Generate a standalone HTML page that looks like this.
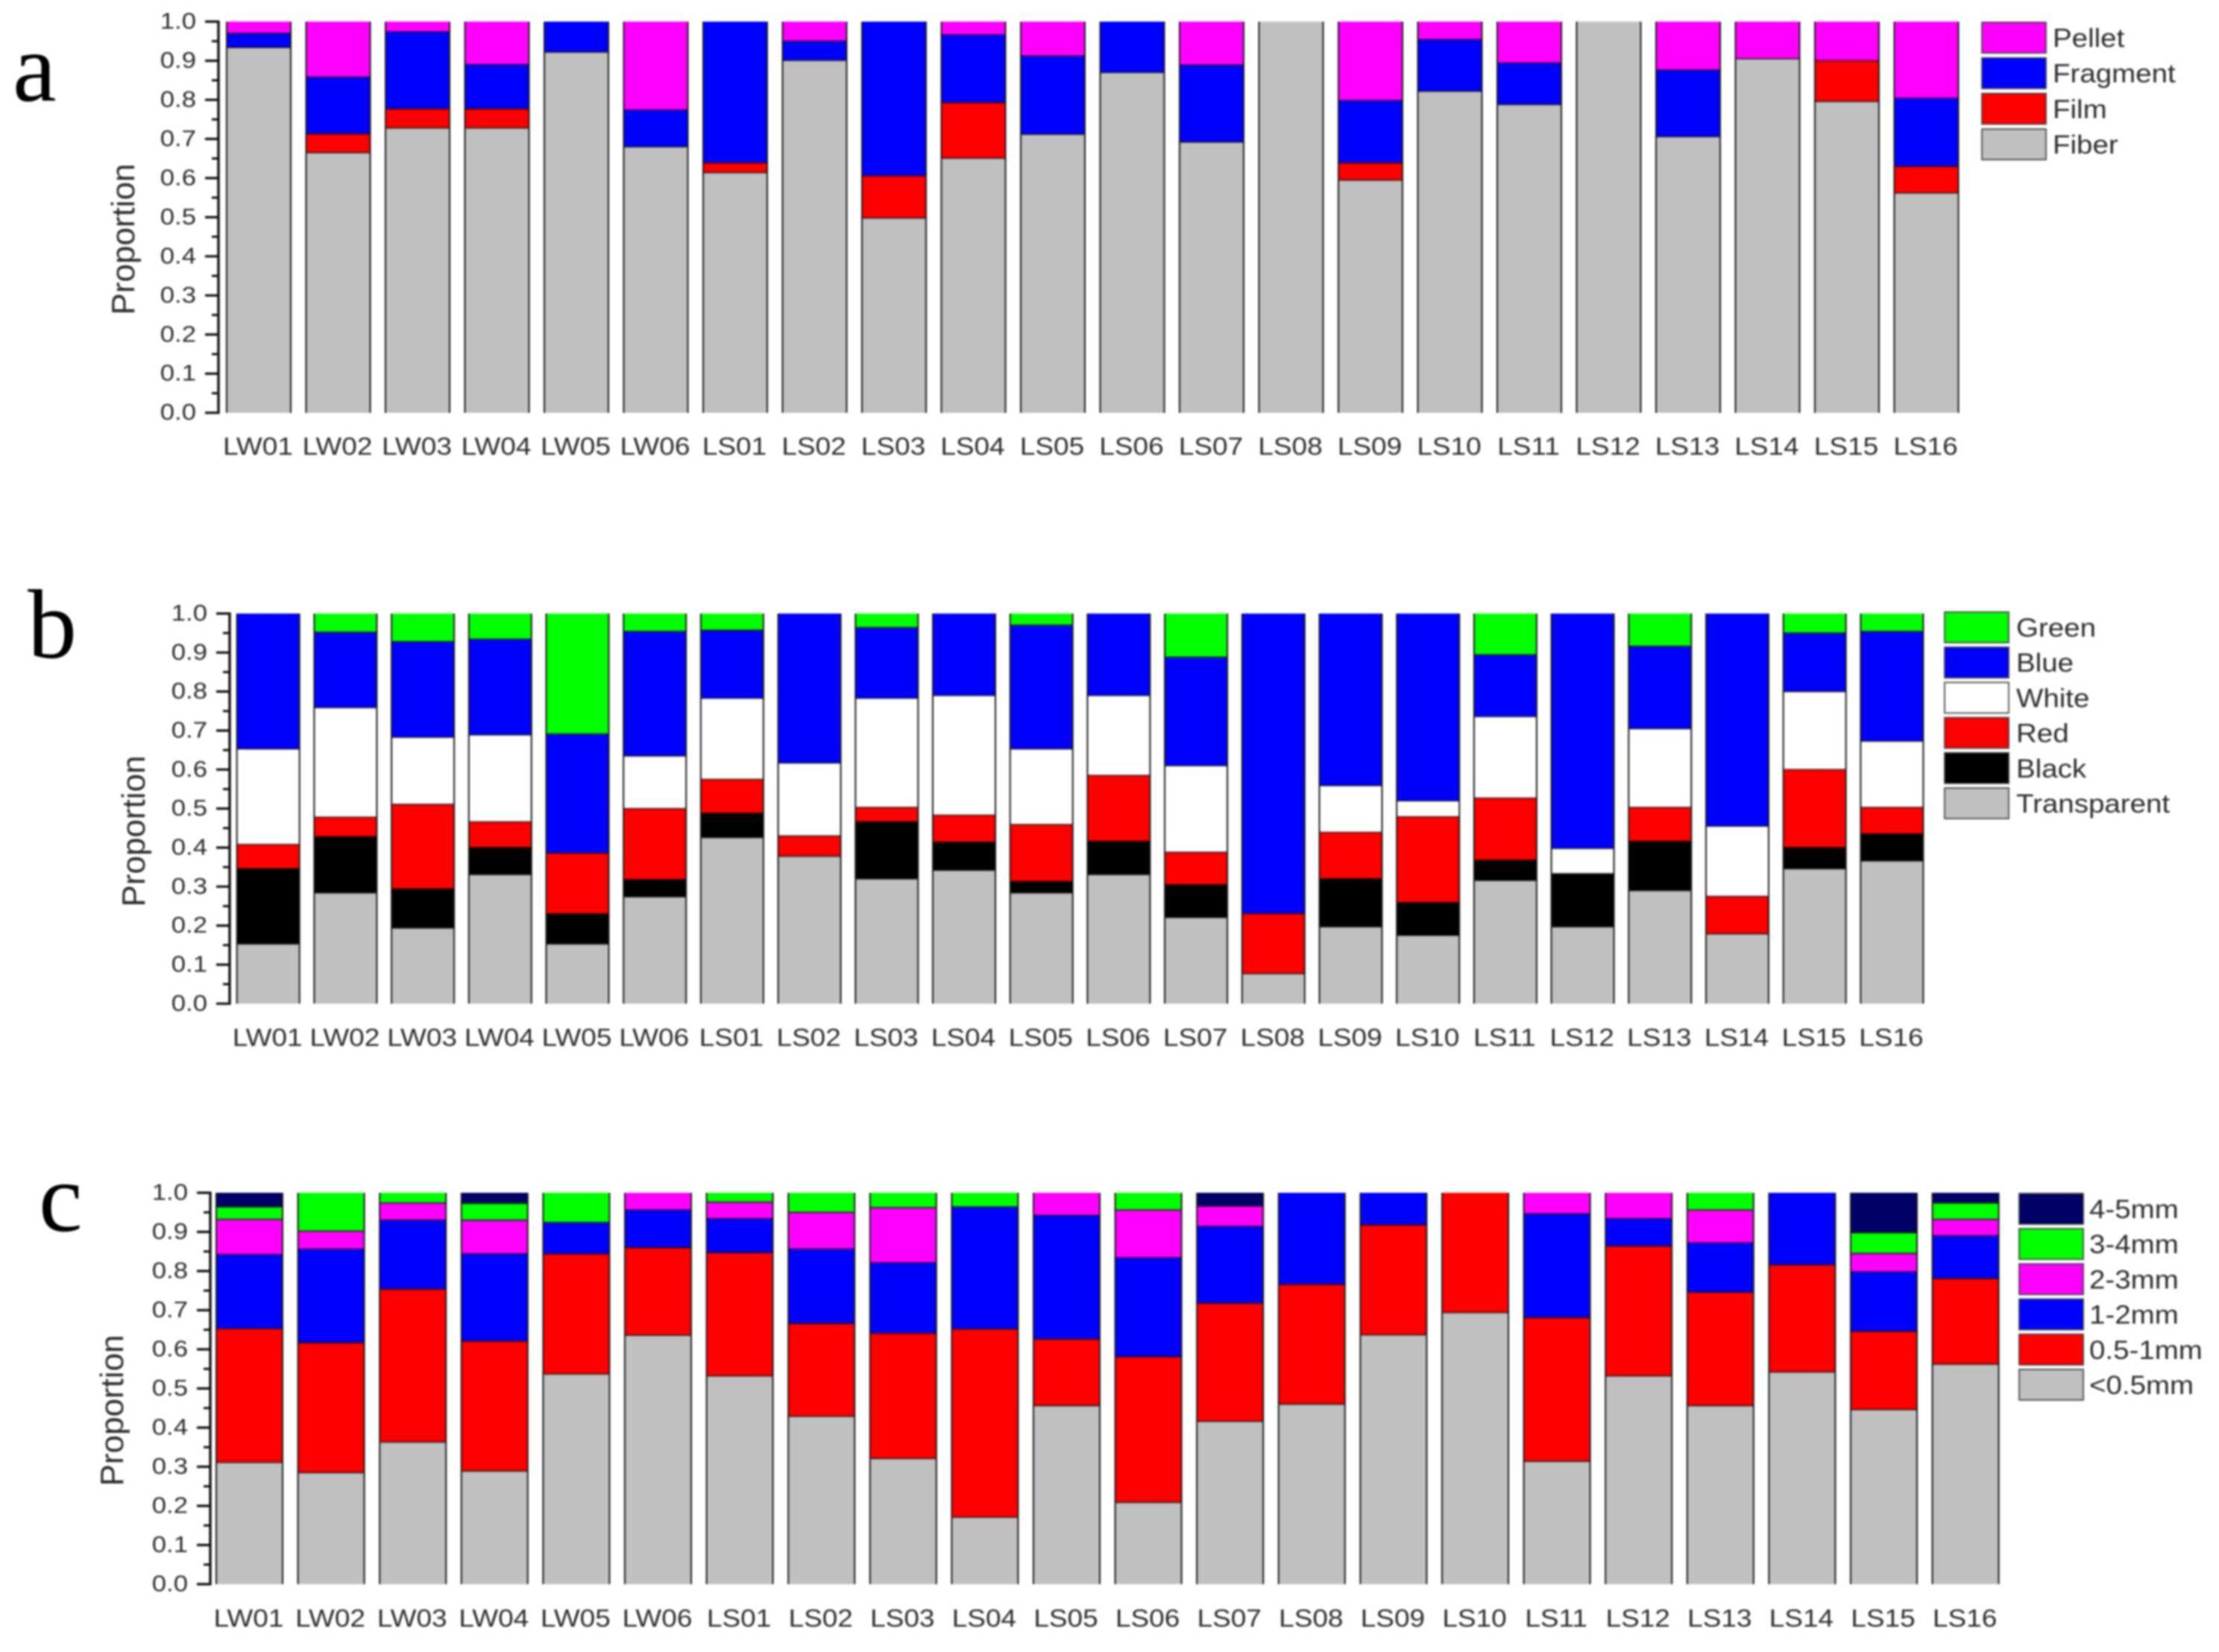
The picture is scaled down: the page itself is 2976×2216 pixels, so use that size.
<!DOCTYPE html>
<html>
<head>
<meta charset="utf-8">
<title>Proportion of microplastic shape, colour and size</title>
<style>
html,body{margin:0;padding:0;background:#fff;width:2976px;height:2216px;overflow:hidden}
svg{display:block;filter:blur(1.2px)}
text{font-family:"Liberation Sans",Arial,sans-serif;fill:#2c2c2c}
.letter{font-family:"Liberation Serif","Times New Roman",serif;fill:#000;font-size:132px}
</style>
</head>
<body>
<svg id="figure" xmlns="http://www.w3.org/2000/svg" width="2976" height="2216" viewBox="0 0 2976 2216">
  <rect x="0" y="0" width="2976" height="2216" fill="#fff"/>
  <text class="letter" x="17" y="135">a</text>
  <text class="letter" x="37" y="882">b</text>
  <text class="letter" x="52" y="1651">c</text>
</svg>
<script>
const categories = ["LW01","LW02","LW03","LW04","LW05","LW06","LS01","LS02","LS03","LS04","LS05","LS06","LS07","LS08","LS09","LS10","LS11","LS12","LS13","LS14","LS15","LS16"];
const tickLabels = ["0.0","0.1","0.2","0.3","0.4","0.5","0.6","0.7","0.8","0.9","1.0"];
const tickValues = [0,0.1,0.2,0.3,0.4,0.5,0.6,0.7,0.8,0.9,1];

/* Panel a: shape, stacked bottom to top */
const shapeNames = ["Fiber","Film","Fragment","Pellet"];
const shapeFiber = [.934,.665,.728,.728,.922,.68,.614,.901,.498,.651,.712,.87,.692,1,.595,.822,.788,1,.706,.905,.796,.562];
const shapeFilm = [0,.048,.049,.049,0,0,.025,0,.108,.142,0,0,0,0,.044,0,0,0,0,0,.104,.068];
const shapeFragment = [.036,.145,.197,.113,.078,.094,.361,.049,.394,.173,.2,.13,.197,0,.159,.132,.106,0,.17,0,0,.174];
const shapePellet = [.03,.142,.026,.11,0,.226,0,.05,0,.034,.088,0,.111,0,.202,.046,.106,0,.124,.095,.1,.196];

/* Panel b: colour, stacked bottom to top */
const colourNames = ["Transparent","Black","Red","White","Blue","Green"];
const colourTransparent = [.153,.284,.194,.331,.153,.274,.426,.378,.32,.342,.284,.331,.221,.077,.197,.175,.316,.197,.29,.179,.346,.366];
const colourBlack = [.193,.144,.1,.069,.077,.044,.062,0,.146,.072,.029,.085,.084,0,.123,.084,.052,.136,.126,0,.054,.069];
const colourRed = [.062,.05,.217,.066,.156,.182,.087,.052,.037,.069,.146,.169,.083,.154,.119,.22,.159,0,.087,.096,.2,.068];
const colourWhite = [.245,.281,.172,.223,0,.135,.208,.187,.28,.307,.194,.205,.222,0,.12,.041,.209,.065,.202,.18,.2,.17];
const colourBlue = [.347,.193,.245,.245,.305,.319,.174,.383,.181,.21,.317,.21,.278,.769,.441,.48,.158,.602,.211,.545,.15,.281];
const colourGreen = [0,.048,.072,.066,.309,.046,.043,0,.036,0,.03,0,.112,0,0,0,.106,0,.084,0,.05,.046];

/* Panel c: size, stacked bottom to top */
const sizeNames = ["<0.5mm","0.5-1mm","1-2mm","2-3mm","3-4mm","4-5mm"];
const sizeUnder05 = [.311,.285,.363,.289,.537,.636,.532,.429,.321,.171,.456,.209,.416,.46,.637,.694,.314,.532,.456,.542,.446,.562];
const size05to1 = [.342,.332,.391,.332,.307,.224,.315,.237,.32,.481,.17,.372,.302,.306,.281,.306,.367,.332,.29,.274,.2,.219];
const size1to2 = [.189,.239,.176,.223,.08,.096,.087,.19,.18,.312,.316,.253,.196,.234,.082,0,.265,.07,.126,.184,.152,.109];
const size2to3 = [.09,.046,.044,.086,0,.044,.042,.094,.141,0,.058,.122,.052,0,0,0,.054,.066,.084,0,.047,.042];
const size3to4 = [.032,.098,.026,.043,.076,0,.024,.05,.038,.036,0,.044,0,0,0,0,0,0,.044,0,.053,.042];
const size4to5 = [.036,0,0,.027,0,0,0,0,0,0,0,0,.034,0,0,0,0,0,0,0,.102,.026];

const NS = "http://www.w3.org/2000/svg";
const root = document.getElementById("figure");

function make(tag, attrs, parent) {
  const el = document.createElementNS(NS, tag);
  for (const k in attrs) el.setAttribute(k, attrs[k]);
  parent.appendChild(el);
  return el;
}
function slug(s) {
  return s.toLowerCase().replace("<", "under-").replace(/\./g, "-");
}

function drawPanel(p) {
  const group = make("g", {}, root);
  
  

  const y = v => p.y0 + (p.y1 - p.y0) * v;
  const x = i => p.barLeft + p.barStep * i;

  /* bars */
  categories.forEach((cat, i) => {
    const barGroup = make("g", {}, group);
    
    
    let cum = 0;
    p.series.forEach((vals, s) => {
      const v = vals[i];
      if (v <= 0) return;
      const top = Math.min(1, cum + v);
      const seg = make("rect", {
        x: x(i), y: y(top), width: p.barWidth, height: y(cum) - y(top), fill: p.colors[s]
      }, barGroup);
      
      
      if (cum > 0) {
        const sep = make("line", {
          x1: x(i), x2: x(i) + p.barWidth, y1: y(cum), y2: y(cum),
          stroke: "#000", "stroke-opacity": 0.55, "stroke-width": 2.4
        }, barGroup);
        
        
      }
      cum = top;
    });
    const outline = make("path", {
      d: "M" + x(i) + " " + y(0) + "V" + y(1) + "M" + (x(i) + p.barWidth) + " " + y(1) + "V" + y(0),
      stroke: "#1a1a1a", "stroke-width": 2, fill: "none"
    }, barGroup);
    
    

    const label = make("text", {
      transform: "translate(" + (x(i) + p.barWidth / 2 - 1) + "," + p.labelBase + ") scale(1.12,1)",
      "text-anchor": "middle", "font-size": 33
    }, group);
    label.textContent = cat;
    
    
  });

  /* y axis */
  const axis = make("line", {
    x1: p.axisX, x2: p.axisX, y1: y(0) + 1.5, y2: y(1) - 1.5, stroke: "#111", "stroke-width": 3.4
  }, group);
  
  

  tickValues.forEach((v, k) => {
    const major = make("line", {
      x1: p.axisX - 18, x2: p.axisX, y1: y(v), y2: y(v), stroke: "#111", "stroke-width": 3.2
    }, group);
    
    
    if (k < tickValues.length - 1) {
      const minor = make("line", {
        x1: p.axisX - 9, x2: p.axisX, y1: y(v + 0.05), y2: y(v + 0.05), stroke: "#111", "stroke-width": 3
      }, group);
      
      
    }
    const t = make("text", {
      transform: "translate(" + (p.axisX - 30) + "," + (y(v) + 9.5) + ") scale(1.12,1)",
      "text-anchor": "end", "font-size": 31
    }, group);
    t.textContent = tickLabels[k];
    
    
  });

  const title = make("text", {
    transform: "translate(" + p.titleX + "," + p.titleY + ") rotate(-90)",
    "text-anchor": "middle", "font-size": 44
  }, group);
  title.textContent = "Proportion";
  
  

  /* legend, listed top to bottom in reverse stacking order */
  const count = p.names.length;
  p.names.forEach((name, s) => {
    const row = count - 1 - s;
    const entry = make("g", {}, group);
    
    
    const sw = make("rect", {
      x: p.legendX, y: p.legendY + row * p.legendStep, width: 86, height: 41,
      fill: p.colors[s], stroke: "#333", "stroke-opacity": 0.8, "stroke-width": 2
    }, entry);
    
    
    const t = make("text", {
      transform: "translate(" + p.legendTextX + "," + (p.legendBase + row * p.legendStep) + ") scale(1.1,1)",
      "font-size": 35
    }, entry);
    t.textContent = name;
    
    
  });
}

drawPanel({
  id: "a", y0: 553.7, y1: 29, barLeft: 304, barStep: 106.5, barWidth: 86, axisX: 293, labelBase: 610,
  titleX: 180, titleY: 321,
  names: shapeNames, series: [shapeFiber, shapeFilm, shapeFragment, shapePellet],
  colors: ["#c0c0c0", "#ff0000", "#0000ff", "#ff00ff"],
  legendX: 2658, legendY: 30, legendStep: 47.7, legendTextX: 2753, legendBase: 63
});
drawPanel({
  id: "b", y0: 1346.3, y1: 823, barLeft: 317.7, barStep: 103.7, barWidth: 84, axisX: 308, labelBase: 1403,
  titleX: 194, titleY: 1115,
  names: colourNames, series: [colourTransparent, colourBlack, colourRed, colourWhite, colourBlue, colourGreen],
  colors: ["#c0c0c0", "#000000", "#ff0000", "#ffffff", "#0000ff", "#00ff00"],
  legendX: 2608, legendY: 821, legendStep: 47.2, legendTextX: 2704, legendBase: 854
});
drawPanel({
  id: "c", y0: 2125, y1: 1600, barLeft: 290, barStep: 109.6, barWidth: 89, axisX: 282, labelBase: 2182,
  titleX: 165, titleY: 1892,
  names: sizeNames, series: [sizeUnder05, size05to1, size1to2, size2to3, size3to4, size4to5],
  colors: ["#c0c0c0", "#ff0000", "#0000ff", "#ff00ff", "#00ff00", "#000066"],
  legendX: 2708, legendY: 1601, legendStep: 47.2, legendTextX: 2802, legendBase: 1634
});
</script>
</body>
</html>
